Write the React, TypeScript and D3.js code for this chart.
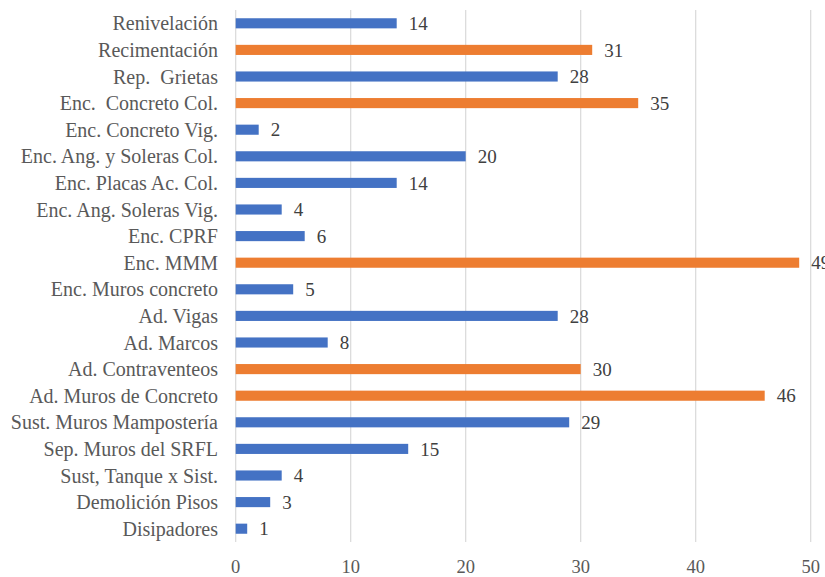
import React, { useEffect, useRef } from "react";
import * as d3 from "d3";

const categories = [
  "Renivelación",
  "Recimentación",
  "Rep.  Grietas",
  "Enc.  Concreto Col.",
  "Enc. Concreto Vig.",
  "Enc. Ang. y Soleras Col.",
  "Enc. Placas Ac. Col.",
  "Enc. Ang. Soleras Vig.",
  "Enc. CPRF",
  "Enc. MMM",
  "Enc. Muros concreto",
  "Ad. Vigas",
  "Ad. Marcos",
  "Ad. Contraventeos",
  "Ad. Muros de Concreto",
  "Sust. Muros Mampostería",
  "Sep. Muros del SRFL",
  "Sust, Tanque x Sist.",
  "Demolición Pisos",
  "Disipadores",
];

const values = [14, 31, 28, 35, 2, 20, 14, 4, 6, 49, 5, 28, 8, 30, 46, 29, 15, 4, 3, 1];

// which bars are highlighted in orange
const highlighted = [
  "Recimentación",
  "Enc.  Concreto Col.",
  "Enc. MMM",
  "Ad. Contraventeos",
  "Ad. Muros de Concreto",
];

const xTicks = [0, 10, 20, 30, 40, 50];

const W = 825;
const H = 577;

export default function App() {
  const ref = useRef<SVGSVGElement>(null);

  useEffect(() => {
    const svg = d3.select(ref.current);
    svg.selectAll("*").remove();

    const font = "'Liberation Serif', 'Times New Roman', serif";
    const textColor = "#595959";

    const x = d3.scaleLinear().domain([0, 50]).range([235.7, 810.7]); // value -> px
    const y = d3
      .scaleBand<string>()
      .domain(categories)
      .range([10, 542])
      .paddingInner(0.62)
      .paddingOuter(0.31);

    // vertical grid lines
    svg
      .append("g")
      .selectAll("line")
      .data(xTicks)
      .join("line")
      .attr("x1", (d) => x(d))
      .attr("x2", (d) => x(d))
      .attr("y1", 10)
      .attr("y2", 542)
      .attr("stroke", "#d9d9d9")
      .attr("stroke-width", 1.2);

    // x tick labels
    svg
      .append("g")
      .selectAll("text")
      .data(xTicks)
      .join("text")
      .attr("x", (d) => x(d))
      .attr("y", 573)
      .attr("text-anchor", "middle")
      .attr("font-family", font)
      .attr("font-size", 18.5)
      .attr("fill", textColor)
      .text((d) => d);

    const data = categories.map((c, i) => ({ c, v: values[i] }));

    // bars
    svg
      .append("g")
      .selectAll("rect")
      .data(data)
      .join("rect")
      .attr("x", x(0))
      .attr("y", (d) => y(d.c) as number)
      .attr("width", (d) => x(d.v) - x(0))
      .attr("height", y.bandwidth())
      .attr("fill", (d) => (highlighted.includes(d.c) ? "#ed7d31" : "#4472c4"));

    // value labels (the 49 runs off the right edge, as in the source)
    svg
      .append("g")
      .selectAll("text")
      .data(data)
      .join("text")
      .attr("x", (d) => x(d.v) + 12)
      .attr("y", (d) => (y(d.c) as number) + y.bandwidth() / 2)
      .attr("dy", "0.35em")
      .attr("font-family", font)
      .attr("font-size", 19)
      .attr("fill", "#404040")
      .text((d) => d.v);

    // category labels
    svg
      .append("g")
      .selectAll("text")
      .data(categories)
      .join("text")
      .attr("x", 218)
      .attr("y", (d) => (y(d) as number) + y.bandwidth() / 2)
      .attr("dy", "0.35em")
      .attr("text-anchor", "end")
      .attr("font-family", font)
      .attr("font-size", 20)
      .attr("fill", textColor)
      .style("white-space", "pre")
      .text((d) => d);
  }, []);

  return (
    <svg
      ref={ref}
      width={W}
      height={H}
      style={{ position: "absolute", left: 0, top: 0, background: "#fff" }}
    />
  );
}
